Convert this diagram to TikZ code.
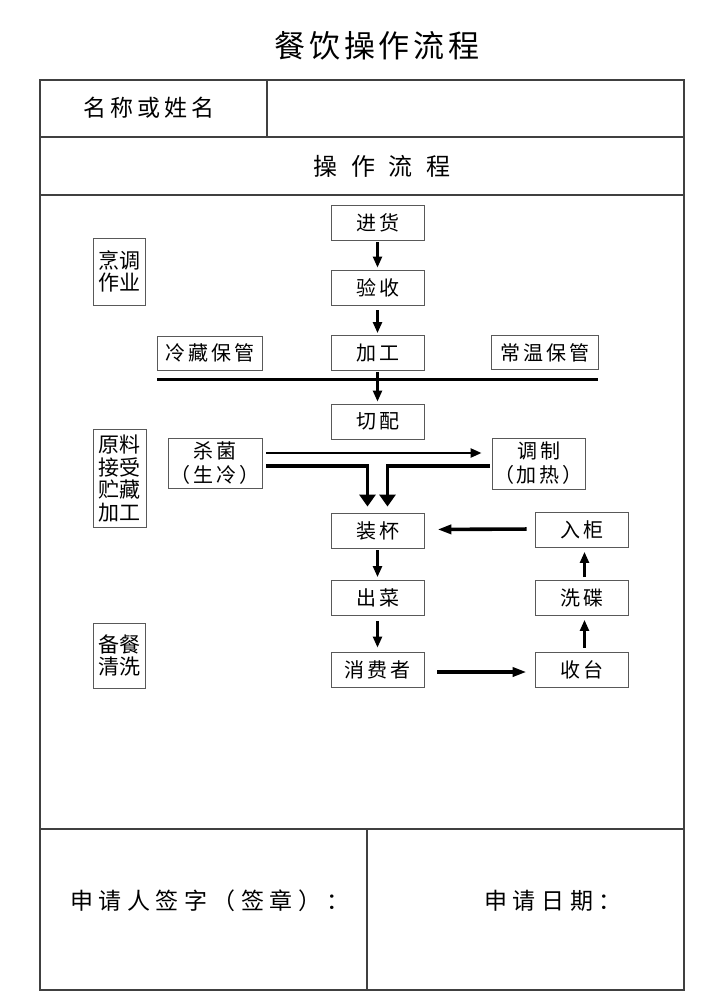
\documentclass[tikz,border=0pt]{standalone}
\usepackage{fontspec}
\setmainfont{Noto Sans CJK SC}
\newfontfamily\titlefont[LetterSpace=12]{Noto Sans CJK SC}
\newfontfamily\namefont[LetterSpace=18]{Noto Sans CJK SC}
\newfontfamily\widefont[LetterSpace=56]{Noto Sans CJK SC}
\newfontfamily\spfont[LetterSpace=15]{Noto Sans CJK SC}
\newfontfamily\signfont[LetterSpace=24]{Noto Sans CJK SC}
\usetikzlibrary{arrows.meta}

\begin{document}
\begin{tikzpicture}[x=1pt,y=-1pt,
 box/.style={draw=black!65,line width=0.9pt,inner sep=0pt,minimum width=93pt,minimum height=35pt,
   font=\spfont\fontsize{20}{24}\selectfont,align=center},
 tag/.style={draw=black!65,line width=0.9pt,inner sep=0pt,minimum width=52pt,
   font=\fontsize{21}{22.5}\selectfont,align=center},
 ar/.style={line width=2.4pt,-{Triangle[length=11pt,width=9pt]}},
 bar/.style={line width=3.6pt,-{Triangle[length=14pt,width=9pt]}},
 fork/.style={line width=3.6pt,-{Triangle[length=12pt,width=16pt]}},
 frame/.style={draw=black!75,line width=1.2pt}]
\useasboundingbox (0,0) rectangle (724,993);
% form frame
\draw[frame] (40,80) rectangle (684,990);
\draw[frame] (40,137) -- (684,137);
\draw[frame] (40,195) -- (684,195);
\draw[frame] (40,829) -- (684,829);
\draw[frame] (267,80) -- (267,137);
\draw[frame] (367,829) -- (367,990);
\node[font=\titlefont\fontsize{31}{34}\selectfont] (title) at (377,46) {餐饮操作流程};
\node[font=\namefont\fontsize{23}{26}\selectfont] (name) at (149,108) {名称或姓名};
\node[font=\widefont\fontsize{24}{26}\selectfont] (head) at (382,166) {操作流程};
\node[font=\signfont\fontsize{23}{26}\selectfont] (sign) at (210,901) {申请人签字（签章）：};
\node[font=\signfont\fontsize{23}{26}\selectfont] (date) at (553,901) {申请日期：};
% flow boxes
\node[box] (jh) at (377.5,222.5) {进货};
\node[box] (ys) at (377.5,287.5) {验收};
\node[box] (jg) at (377.5,353) {加工};
\node[box,minimum width=105pt,minimum height=34pt] (lc) at (209.5,353) {冷藏保管};
\node[box,minimum width=107pt,minimum height=34pt] (cw) at (544.5,352.5) {常温保管};
\node[box] (qp) at (377.5,421.5) {切配};
\node[box,minimum width=94pt,minimum height=50pt] (sj) at (215,463) {杀菌\\（生冷）};
\node[box,minimum height=51pt] (tz) at (538.5,463.5) {调制\\（加热）};
\node[box] (zb) at (377.5,530.5) {装杯};
\node[box] (rg) at (581.5,530) {入柜};
\node[box] (cc) at (377.5,598) {出菜};
\node[box] (xd) at (581.5,598) {洗碟};
\node[box] (xf) at (377.5,669.5) {消费者};
\node[box] (st) at (581.5,669.5) {收台};
% stage tags
\node[tag,minimum height=67pt] (pt) at (119,271.5) {烹调\\作业};
\node[tag,minimum width=53pt,minimum height=98pt] (yl) at (119.5,478.5) {原料\\接受\\贮藏\\加工};
\node[tag,minimum height=65pt] (bc) at (119,655.5) {备餐\\清洗};
% storage line
\coordinate (la) at (157,379);
\coordinate (lb) at (598,379);
\draw[line width=3pt] (la) -- (lb);
% arrows
\draw[ar,shorten <=2pt,shorten >=2pt] (jh) -- (ys);
\draw[ar,shorten <=5pt,shorten >=2pt] (ys) -- (jg);
\draw[ar,shorten <=1pt,shorten >=2pt] (jg) -- (qp);
\draw[ar,shorten <=2pt,shorten >=3pt] (zb) -- (cc);
\draw[ar,shorten <=5pt,shorten >=4pt] (cc) -- (xf);
\draw[ar,shorten <=4pt,shorten >=4pt] ([xshift=3pt]st.north) -- ([xshift=3pt]xd.south);
\draw[ar,shorten <=3pt,shorten >=4pt] ([xshift=3pt]xd.north) -- ([xshift=3pt]rg.south);
\draw[bar,shorten <=8pt,shorten >=13pt] ([yshift=1pt]rg.west) -- ([yshift=1pt]zb.east);
\draw[bar,shorten <=13pt,shorten >=8pt] ([yshift=-2.5pt]xf.east) -- ([yshift=-2.5pt]st.west);
\draw[ar] ([xshift=4pt,yshift=10pt]sj.east) -- ([xshift=-10pt,yshift=10.5pt]tz.west);
\draw[fork] ([xshift=4pt,yshift=-3pt]sj.east) -| ([xshift=-10pt,yshift=6pt]zb.north);
\draw[fork] ([xshift=-2pt,yshift=-2.5pt]tz.west) -| ([xshift=10pt,yshift=6pt]zb.north);
\end{tikzpicture}
\end{document}
